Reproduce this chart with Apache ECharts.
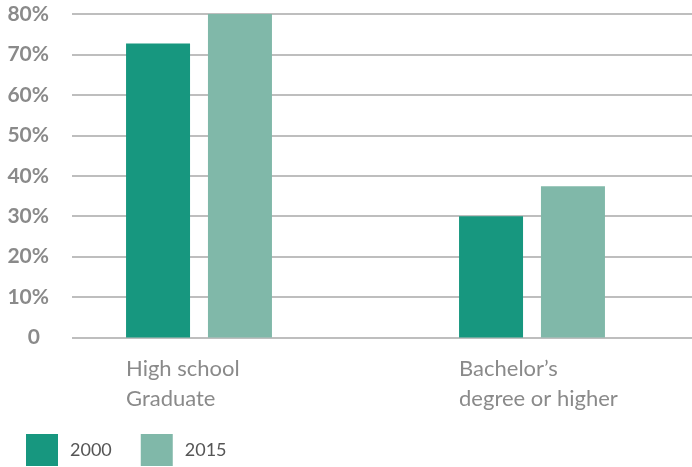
<!DOCTYPE html>
<html>
<head>
<meta charset="utf-8">
<script src="https://cdn.jsdelivr.net/npm/echarts@6/dist/echarts.min.js"></script>
<style>
html,body{margin:0;padding:0;background:#fff;}
#chart{width:692px;height:467px;}
</style>
</head>
<body>
<div id="chart"></div>
<script>
// categories and values
var categories = ['High school\nGraduate', 'Bachelor\u2019s\ndegree or higher'];
var years = ['2000', '2015'];
var values2000 = [72.7, 30];
var values2015 = [80, 37.4];

var FONT = 'Lato';
var chart = echarts.init(document.getElementById('chart'));

function catLabel(v){
	// each line in a fixed-width box so text starts at the left edge of the bars
	return v.split('\n').map(function(l){ return '{a|' + l + '}'; }).join('\n');
}

var yLabelStyle = { fontSize: 21, fontWeight: 'bold', color: '#8a8a8a', fontFamily: FONT };

var option = {
	animation: false,
	color: ['#17977f', '#80b8a9'],
	textStyle: { fontFamily: FONT },
	grid: [
		// grid for the y axis + gridlines
		{ left: 72, right: 0, top: 14, bottom: 129.5, outerBoundsMode: 'none' },
		// grid for the bars (wider, so the two groups land where they are in the picture)
		{ left: 32.5, right: -6.5, top: 14, bottom: 129.5, outerBoundsMode: 'none' }
	],
	legend: {
		data: years,
		left: 21,
		top: 429,
		icon: 'rect',
		itemWidth: 32,
		itemHeight: 32,
		itemGap: 29,
		textStyle: { fontSize: 18, color: '#555', fontFamily: FONT, padding: [0, 0, 0, 7] }
	},
	xAxis: [
		{ gridIndex: 0, type: 'category', data: categories, show: false },
		{
			gridIndex: 1, type: 'category', data: categories,
			axisLine: { show: false }, axisTick: { show: false },
			axisLabel: {
				margin: 16,
				formatter: catLabel,
				rich: { a: { width: 146, align: 'left', fontSize: 22, lineHeight: 30, color: '#8a8a8a', fontFamily: FONT } }
			}
		}
	],
	yAxis: [
		{
			gridIndex: 0, type: 'value', min: 0, max: 80, interval: 10,
			axisLine: { show: false }, axisTick: { show: false },
			splitLine: { lineStyle: { color: '#a8a8a8', width: 1.5 } },
			axisLabel: {
				margin: 23, fontSize: 21, fontWeight: 'bold', color: '#8a8a8a', fontFamily: FONT,
				formatter: function(v){ return v === 0 ? '{z|0}' : v + '%'; },
				rich: { z: Object.assign({ padding: [0, 9, 0, 0] }, yLabelStyle) }
			}
		},
		{ gridIndex: 1, type: 'value', min: 0, max: 80, show: false, splitLine: { show: false } }
	],
	series: [
		{ name: years[0], type: 'bar', xAxisIndex: 1, yAxisIndex: 1, data: values2000, barWidth: 64, barGap: '28%' },
		{ name: years[1], type: 'bar', xAxisIndex: 1, yAxisIndex: 1, data: values2015, barWidth: 64, barGap: '28%' }
	]
};
chart.setOption(option);
</script>
</body>
</html>
